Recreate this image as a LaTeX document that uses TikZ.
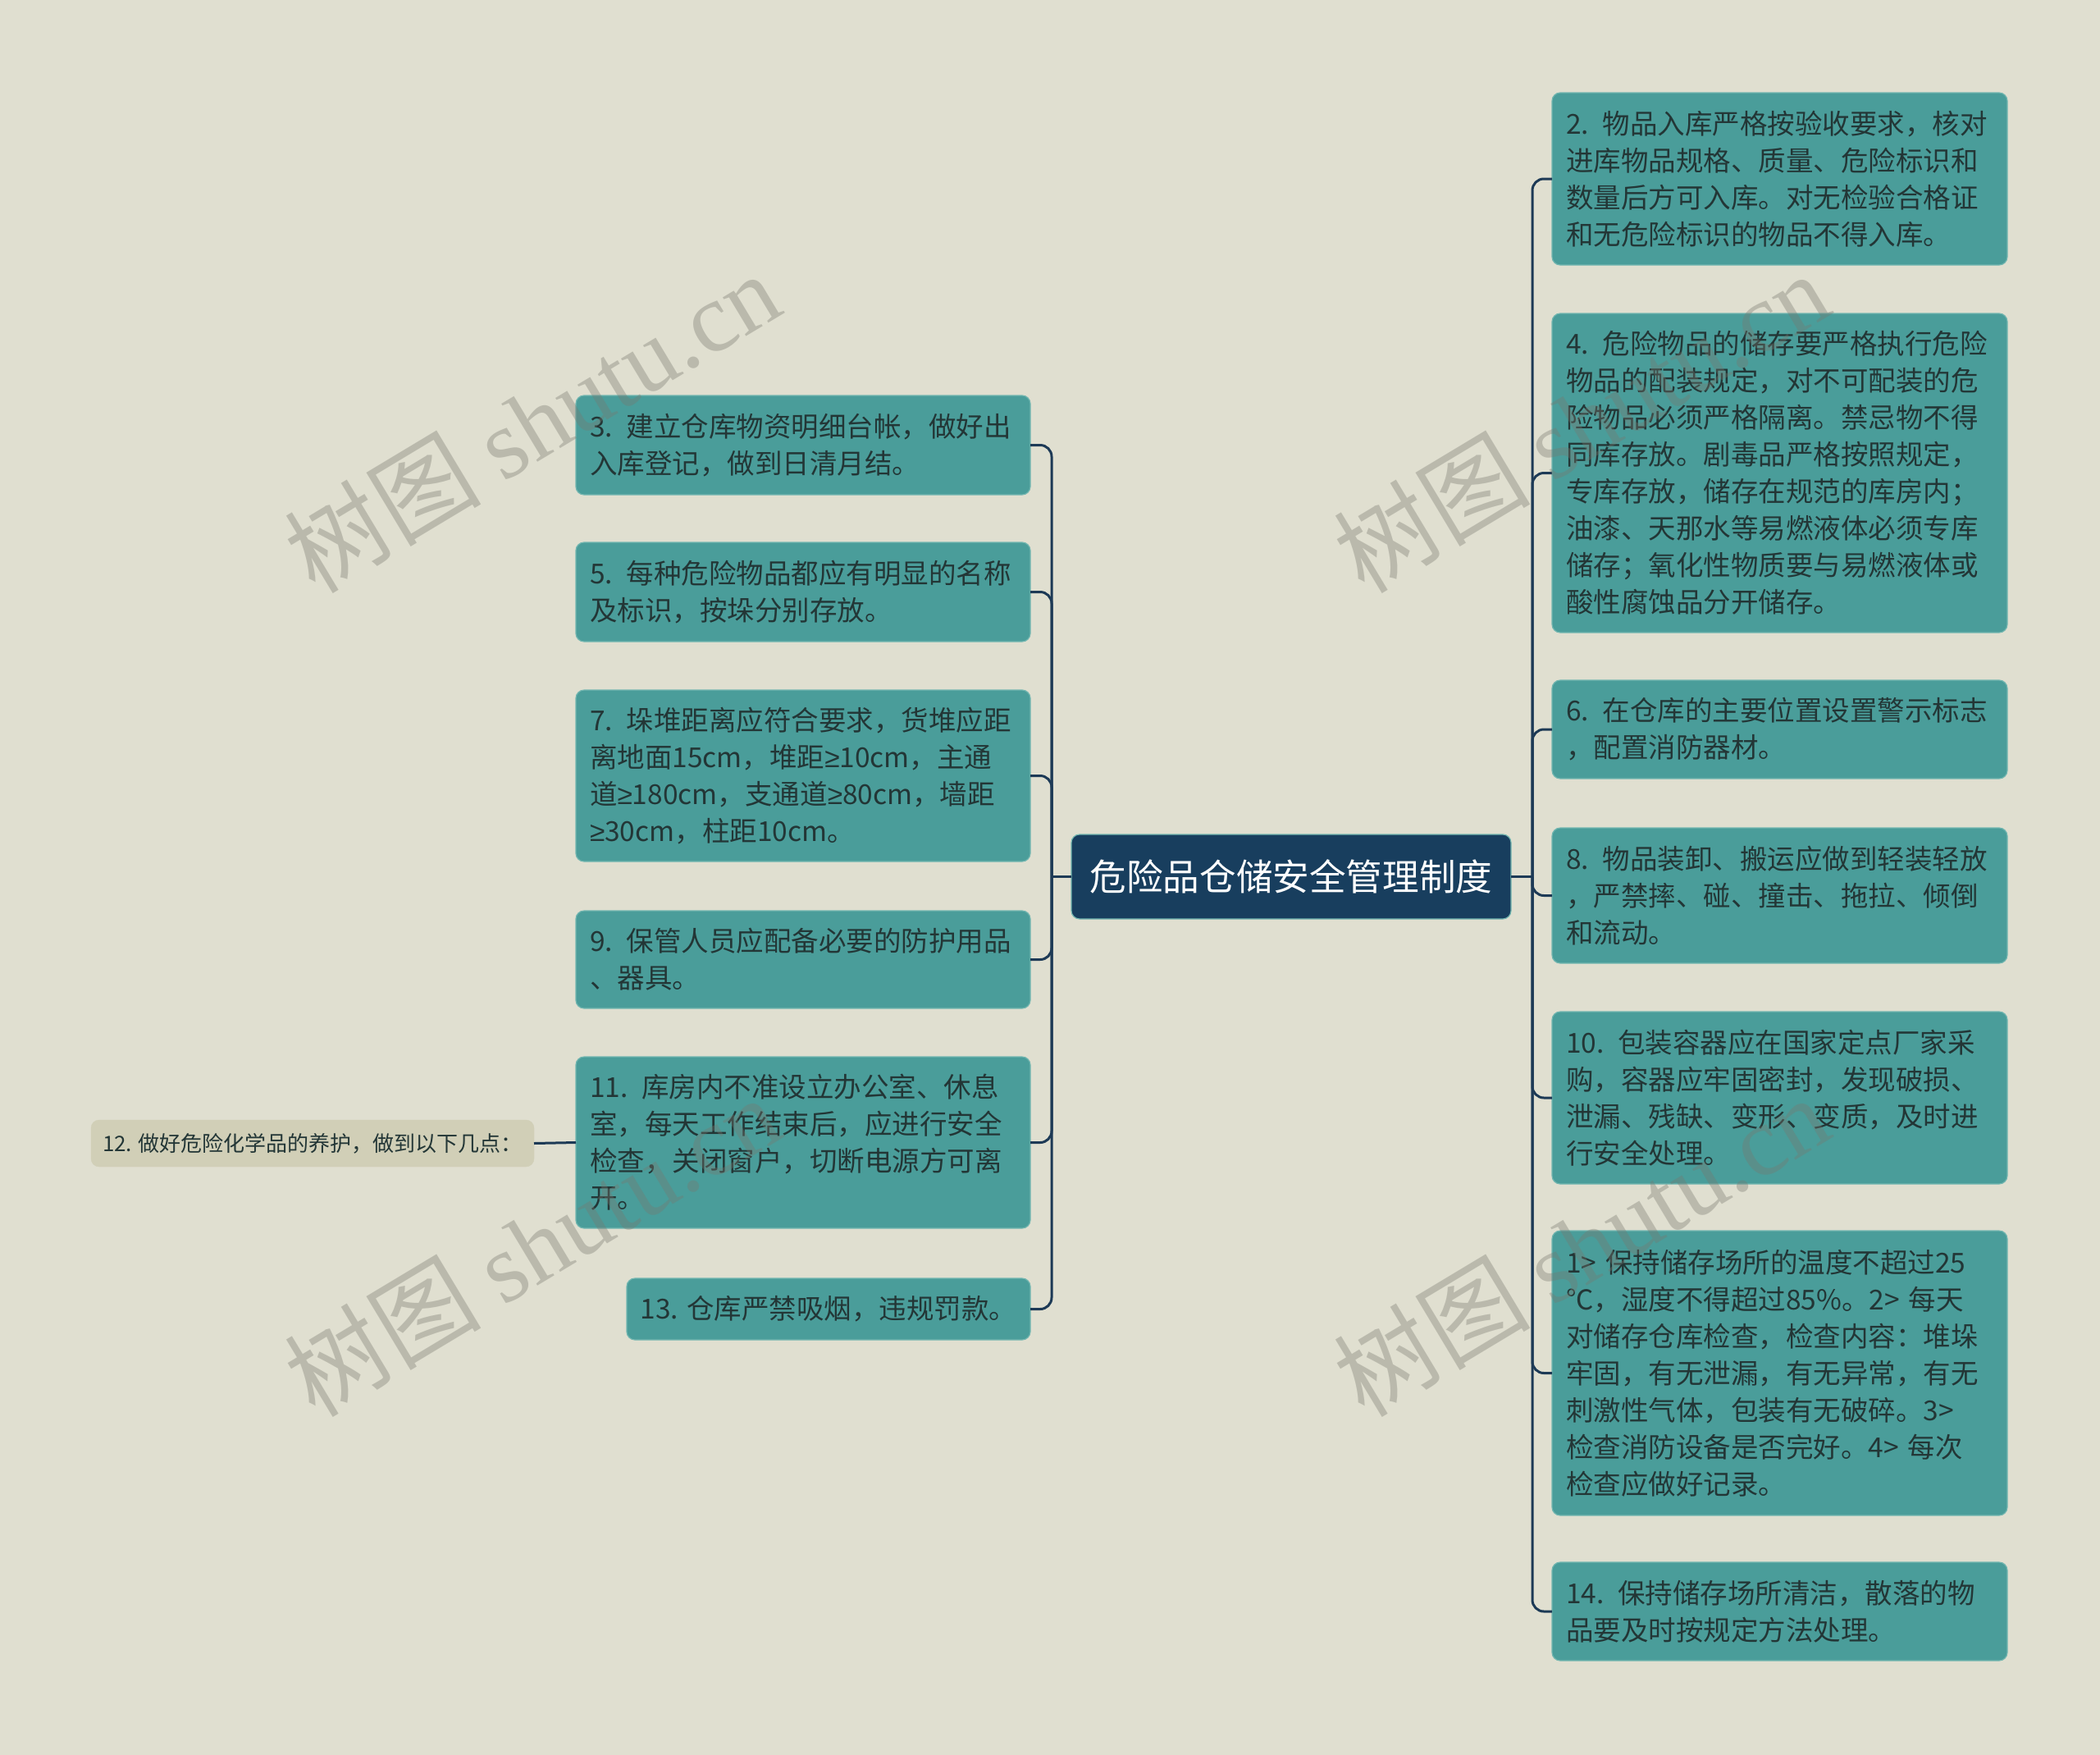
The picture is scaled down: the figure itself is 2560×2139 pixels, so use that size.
\documentclass[tikz,border=0pt]{standalone}
\usepackage{fontspec}
\setmainfont{Noto Sans CJK SC}
\newfontfamily\wmserif{Liberation Serif}
\newfontfamily\symfont{Liberation Sans}
\newcommand{\gesym}{{\symfont ≥}}
\definecolor{bgc}{HTML}{E0DFD0}
\definecolor{tealfill}{HTML}{4A9D9A}
\definecolor{tealedge}{HTML}{72B6B0}
\definecolor{rootc}{HTML}{183E5E}
\definecolor{linec}{HTML}{1D3A56}
\definecolor{txtc}{HTML}{233636}
\definecolor{beigec}{HTML}{D1CFB7}
\definecolor{wmc}{HTML}{78786E}
\begin{document}
\begin{tikzpicture}[x=1pt,y=-1pt,
  item/.style={draw=tealedge, line width=1.2pt, fill=tealfill, rounded corners=10pt,
    anchor=north west, align=left, text=txtc, inner xsep=17pt, inner ysep=0pt, outer sep=0pt,
    font=\fontsize{33.5}{45}\selectfont},
  rootbox/.style={draw=tealedge, line width=1.2pt, fill=rootc, rounded corners=10pt,
    anchor=north west, text=white, inner sep=0pt, outer sep=0pt,
    minimum width=536pt, minimum height=103pt, font=\fontsize{44.6}{54}\selectfont},
  subbox/.style={draw=beigec, fill=beigec, rounded corners=10pt, anchor=north west,
    text=txtc, inner sep=0pt, outer sep=0pt, minimum width=540pt, minimum height=57pt,
    font=\fontsize{26}{32}\selectfont},
  conn/.style={draw=linec, line width=3pt},
  wmk/.style={text=wmc, opacity=0.36, rotate=31, inner sep=0pt,
    font=\fontsize{120}{130}\selectfont}]
\useasboundingbox (0,0) rectangle (2560,2139);
\fill[bgc] (0,0) rectangle (2560,2139);

% root
\node[rootbox] (root) at (1306,1017) {危险品仓储安全管理制度};

% left items
\node[item, text width=520pt, minimum width=554pt, minimum height=121pt] (n3) at (702,482)
  {3. 建立仓库物资明细台帐，做好出\\入库登记，做到日清月结。};
\node[item, text width=520pt, minimum width=554pt, minimum height=121pt] (n5) at (702,661)
  {5. 每种危险物品都应有明显的名称\\及标识，按垛分别存放。};
\node[item, text width=520pt, minimum width=554pt, minimum height=209pt] (n7) at (702,841)
  {7. 垛堆距离应符合要求，货堆应距\\离地面15cm，堆距\gesym10cm，主通\\道\gesym180cm，支通道\gesym80cm，墙距\\\gesym30cm，柱距10cm。};
\node[item, text width=520pt, minimum width=554pt, minimum height=119pt] (n9) at (702,1110)
  {9. 保管人员应配备必要的防护用品\\、器具。};
\node[item, text width=520pt, minimum width=554pt, minimum height=209pt] (n11) at (702,1288)
  {11. 库房内不准设立办公室、休息\\室，每天工作结束后，应进行安全\\检查，关闭窗户，切断电源方可离\\开。};
\node[item, inner xsep=0pt, minimum width=492pt, minimum height=75pt] (n13) at (764,1558)
  {13. 仓库严禁吸烟，违规罚款。};
\node[subbox] (n12) at (111,1365) {12. 做好危险化学品的养护，做到以下几点：};

% right items
\node[item, text width=521pt, minimum width=555pt, minimum height=210pt] (n2) at (1892,113)
  {2. 物品入库严格按验收要求，核对\\进库物品规格、质量、危险标识和\\数量后方可入库。对无检验合格证\\和无危险标识的物品不得入库。};
\node[item, text width=521pt, minimum width=555pt, minimum height=389pt] (n4) at (1892,382)
  {4. 危险物品的储存要严格执行危险\\物品的配装规定，对不可配装的危\\险物品必须严格隔离。禁忌物不得\\同库存放。剧毒品严格按照规定，\\专库存放，储存在规范的库房内；\\油漆、天那水等易燃液体必须专库\\储存；氧化性物质要与易燃液体或\\酸性腐蚀品分开储存。};
\node[item, text width=521pt, minimum width=555pt, minimum height=120pt] (n6) at (1892,829)
  {6. 在仓库的主要位置设置警示标志\\，配置消防器材。};
\node[item, text width=521pt, minimum width=555pt, minimum height=165pt] (n8) at (1892,1009)
  {8. 物品装卸、搬运应做到轻装轻放\\，严禁摔、碰、撞击、拖拉、倾倒\\和流动。};
\node[item, text width=521pt, minimum width=555pt, minimum height=210pt] (n10) at (1892,1233)
  {10. 包装容器应在国家定点厂家采\\购，容器应牢固密封，发现破损、\\泄漏、残缺、变形、变质，及时进\\行安全处理。};
\node[item, text width=521pt, minimum width=555pt, minimum height=347pt] (n1) at (1892,1500)
  {1> 保持储存场所的温度不超过25\\℃，湿度不得超过85\%。2> 每天\\对储存仓库检查，检查内容：堆垛\\牢固，有无泄漏，有无异常，有无\\刺激性气体，包装有无破碎。3>\\检查消防设备是否完好。4> 每次\\检查应做好记录。};
\node[item, text width=521pt, minimum width=555pt, minimum height=120pt] (n14) at (1892,1904)
  {14. 保持储存场所清洁，散落的物\\品要及时按规定方法处理。};

% connectors
\coordinate (lb) at (1282,1068.5);
\coordinate (rb) at (1868,1068.5);
\draw[conn] (root.west) -- (lb);
\draw[conn] (root.east) -- (rb);
\foreach \n in {n3,n5,n7,n9,n11,n13} \draw[conn, rounded corners=14pt] (lb) |- (\n.east);
\foreach \n in {n2,n4,n6,n8,n10,n1,n14} \draw[conn, rounded corners=14pt] (rb) |- (\n.west);
\draw[conn] (n12.east) -- (n11.west);

% watermarks
\node[wmk] (w1) at (648,514) {树图 {\wmserif shutu.cn}};
\node[wmk] (w2) at (1927,514) {树图 {\wmserif shutu.cn}};
\node[wmk] (w3) at (648,1518) {树图 {\wmserif shutu.cn}};
\node[wmk] (w4) at (1927,1518) {树图 {\wmserif shutu.cn}};
\end{tikzpicture}
\end{document}
